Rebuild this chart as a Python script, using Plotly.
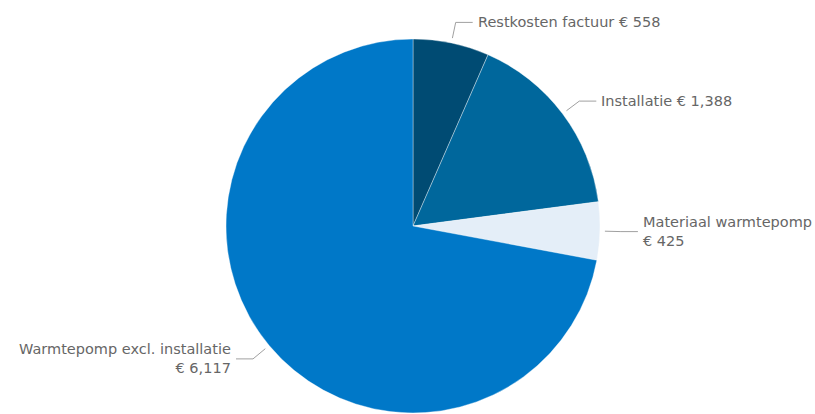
import math
import plotly.graph_objects as go

# Cost breakdown
labels = ["Restkosten factuur", "Installatie", "Materiaal warmtepomp", "Warmtepomp excl. installatie"]
values = [558, 1388, 425, 6117]
colors = ["#004b73", "#00679c", "#e4eef8", "#0078c8"]
label_lines = [
    ["Restkosten factuur € 558"],
    ["Installatie € 1,388"],
    ["Materiaal warmtepomp", "€ 425"],
    ["Warmtepomp excl. installatie", "€ 6,117"],
]

W, H = 815, 414
CX, CY, R = 413, 226, 187  # pie centre and radius in pixels

fig = go.Figure()
fig.add_trace(go.Pie(
    labels=labels,
    values=values,
    sort=False,
    direction="clockwise",
    rotation=0,
    marker=dict(colors=colors, line=dict(color="rgba(255,255,255,0.6)", width=0.6)),
    textinfo="none",
    hoverinfo="label+value",
    showlegend=False,
    domain=dict(x=[(CX - R) / W, (CX + R) / W], y=[1 - (CY + R) / H, 1 - (CY - R) / H]),
))

# Connector lines and labels placed at each slice's mid angle
total = sum(values)
cum = 0
annotations = []
shapes = []
for v, lines in zip(values, label_lines):
    mid = (cum + v / 2) / total * 2 * math.pi
    cum += v
    sx, sy = math.sin(mid), -math.cos(mid)
    x0, y0 = CX + (R + 5) * sx, CY + (R + 5) * sy
    x1, y1 = CX + (R + 21) * sx, CY + (R + 21) * sy
    side = 1 if sx >= 0 else -1
    x2 = x1 + side * 17
    shapes.append(dict(
        type="path", xref="x", yref="y",
        path=f"M {x0:.1f} {y0:.1f} L {x1:.1f} {y1:.1f} L {x2:.1f} {y1:.1f}",
        line=dict(color="#a0a0a0", width=1),
    ))
    annotations.append(dict(
        x=x2 + side * 3, y=y1, xref="x", yref="y",
        text="<br>".join(lines),
        showarrow=False,
        xanchor="left" if side > 0 else "right",
        yanchor="middle",
        align="left" if side > 0 else "right",
        font=dict(family="DejaVu Sans, Verdana, sans-serif", size=14.5, color="#666666"),
    ))

fig.update_layout(
    width=W, height=H,
    margin=dict(l=0, r=0, t=0, b=0),
    paper_bgcolor="white",
    plot_bgcolor="rgba(0,0,0,0)",
    xaxis=dict(range=[0, W], visible=False, domain=[0, 1], fixedrange=True),
    yaxis=dict(range=[H, 0], visible=False, domain=[0, 1], fixedrange=True),
    shapes=shapes,
    annotations=annotations,
)

fig.write_html("out.html")
